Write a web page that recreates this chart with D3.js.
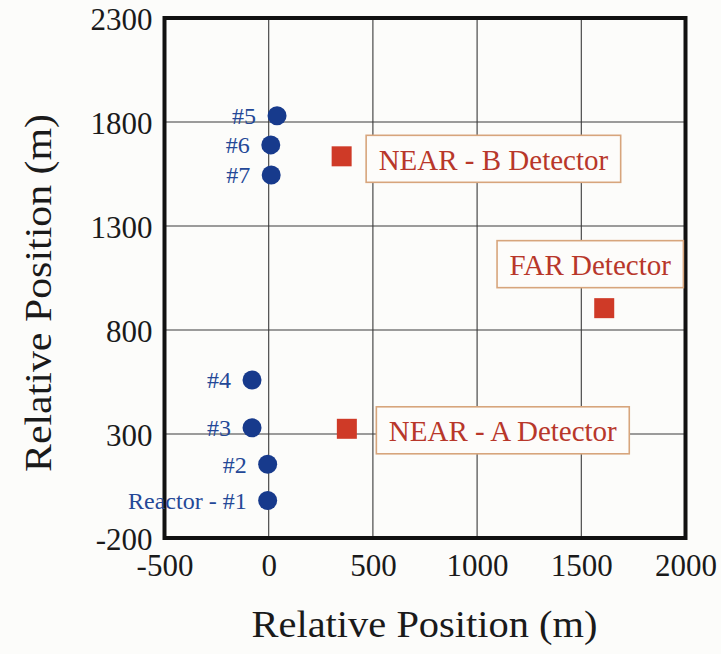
<!DOCTYPE html>
<html>
<head>
<meta charset="utf-8">
<script src="https://cdn.jsdelivr.net/npm/d3@7"></script>
<style>
  html, body { margin: 0; padding: 0; background: #fcfcfa; }
  svg { display: block; }
  text { font-family: "Liberation Serif", "Times New Roman", serif; }
</style>
</head>
<body>
<svg id="chart" width="721" height="654"></svg>
<script>
// Reactor positions (m)
const reactorNames = ["Reactor - #1", "#2", "#3", "#4", "#5", "#6", "#7"];
const reactorX = [-5, -5, -80, -80, 40, 10, 12];
const reactorY = [-20, 155, 330, 560, 1830, 1690, 1545];

// Detector positions (m)
const detectorNames = ["NEAR - A Detector", "NEAR - B Detector", "FAR Detector"];
const detectorX = [375, 350, 1610];
const detectorY = [325, 1635, 905];

// Axis ticks
const xTicks = [-500, 0, 500, 1000, 1500, 2000];
const yTicks = [-200, 300, 800, 1300, 1800, 2300];

const svg = d3.select("#chart");
const plotL = 164.5, plotR = 685.5, plotT = 18, plotB = 538;

const x = d3.scaleLinear().domain([-500, 2000]).range([plotL, plotR]);
const y = d3.scaleLinear().domain([-200, 2300]).range([plotB, plotT]);

// Grid lines
const grid = svg.append("g");
grid.selectAll("line.v").data(xTicks.slice(1, -1)).join("line")
  .attr("class", "v")
  .attr("x1", d => x(d)).attr("x2", d => x(d))
  .attr("y1", plotT).attr("y2", plotB)
  .attr("stroke", "#3a3a3a").attr("stroke-width", 1.1);
grid.selectAll("line.h").data(yTicks.slice(1, -1)).join("line")
  .attr("class", "h")
  .attr("y1", d => y(d)).attr("y2", d => y(d))
  .attr("x1", plotL).attr("x2", plotR)
  .attr("stroke", "#3a3a3a").attr("stroke-width", 1.1);

// Axes (labels only; the frame is drawn separately). Plain hyphen for negatives.
const fmt = d => String(d);
const xAxis = d3.axisBottom(x).tickValues(xTicks).tickSize(0).tickPadding(17).tickFormat(fmt);
const yAxis = d3.axisLeft(y).tickValues(yTicks).tickSize(0).tickPadding(12).tickFormat(fmt);

const gx = svg.append("g").attr("transform", `translate(0,${plotB})`).call(xAxis);
const gy = svg.append("g").attr("transform", `translate(${plotL},0)`).call(yAxis);
[gx, gy].forEach(g => {
  g.select(".domain").remove();
  g.selectAll("text")
    .attr("font-size", 31).attr("fill", "#1a1a1a");
});
gx.selectAll("text").attr("dy", "0.71em").attr("y", 16);
gy.selectAll("text").attr("dy", "0.36em");

// Frame
svg.append("rect")
  .attr("x", plotL).attr("y", plotT)
  .attr("width", plotR - plotL).attr("height", plotB - plotT)
  .attr("fill", "none").attr("stroke", "#111").attr("stroke-width", 4);

// Axis titles
svg.append("text")
  .attr("x", (plotL + plotR) / 2 - 0.5).attr("y", 637)
  .attr("text-anchor", "middle").attr("font-size", 38).attr("fill", "#1a1a1a")
  .attr("textLength", 346).attr("lengthAdjust", "spacingAndGlyphs")
  .text("Relative Position (m)");
svg.append("text")
  .attr("transform", `translate(51,${293}) rotate(-90)`)
  .attr("text-anchor", "middle").attr("font-size", 38).attr("fill", "#1a1a1a")
  .attr("textLength", 358).attr("lengthAdjust", "spacingAndGlyphs")
  .text("Relative Position (m)");

// Reactors
const reactors = reactorNames.map((n, i) => ({ name: n, x: reactorX[i], y: reactorY[i] }));
const rg = svg.append("g");
rg.selectAll("circle").data(reactors).join("circle")
  .attr("cx", d => x(d.x)).attr("cy", d => y(d.y)).attr("r", 9.5)
  .attr("fill", "#173a8c");
rg.selectAll("text").data(reactors).join("text")
  .attr("x", d => x(d.x) - 21).attr("y", d => y(d.y))
  .attr("dy", "0.35em").attr("text-anchor", "end")
  .attr("font-size", 24).attr("fill", "#244897")
  .text(d => d.name);

// Detectors with boxed labels
const detectors = detectorNames.map((n, i) => ({ name: n, x: detectorX[i], y: detectorY[i] }));
const dg = svg.append("g");
const sq = 20;
dg.selectAll("rect.det").data(detectors).join("rect")
  .attr("class", "det")
  .attr("x", d => x(d.x) - sq / 2).attr("y", d => y(d.y) - sq / 2)
  .attr("width", sq).attr("height", sq)
  .attr("fill", "#cf3a27");

// label placement relative to each marker: [anchor, dx, dy]
const labelPlace = {
  "NEAR - A Detector": ["start", 29.5, 1.5],
  "NEAR - B Detector": ["start", 24.5, 2.5],
  "FAR Detector": ["middle", -14, -44]
};
const pad = 12.5, boxH = 47;
detectors.forEach(d => {
  const [anchor, dx, dy] = labelPlace[d.name];
  const g = dg.append("g");
  const rect = g.append("rect");
  const t = g.append("text")
    .attr("font-size", 29).attr("fill", "#b8372a")
    .attr("dy", "0.35em")
    .text(d.name);
  const w = t.node().getComputedTextLength() + 2 * pad;
  const cy = y(d.y) + dy;
  const bx = anchor === "start" ? x(d.x) + dx : x(d.x) + dx - w / 2;
  t.attr("x", bx + pad).attr("y", cy + 1);
  rect.attr("x", bx).attr("y", cy - boxH / 2)
    .attr("width", w).attr("height", boxH)
    .attr("fill", "#fdfcfa").attr("stroke", "#d7a57c").attr("stroke-width", 1.6);
});
</script>
</body>
</html>
